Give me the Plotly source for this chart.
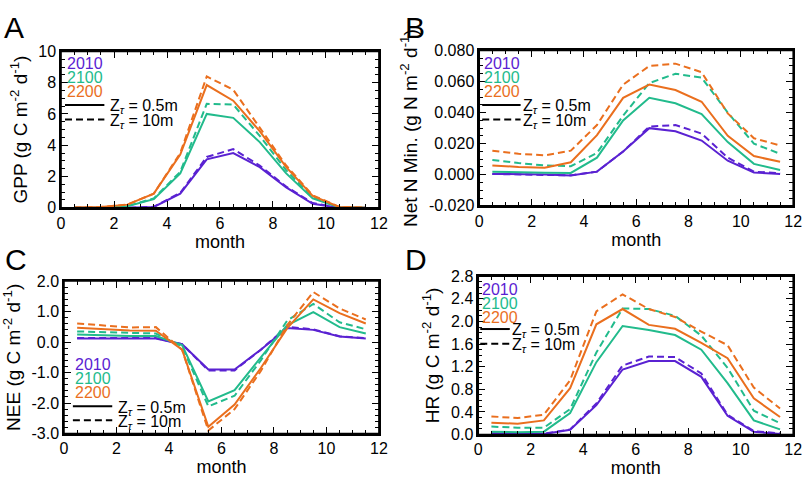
import plotly.graph_objects as go

W, H = 812, 485

months = [0.5, 1.5, 2.5, 3.5, 4.5, 5.5, 6.5, 7.5, 8.5, 9.5, 10.5, 11.5]
years = ["2010", "2100", "2200"]
colors = {"2010": "#5a22d2", "2100": "#22bb8c", "2200": "#ea6f1e"}

# Panel A: GPP
gpp_2010_05 = [0, 0, 0, 0.05, 0.9, 3.1, 3.5, 2.6, 1.3, 0.25, 0.0, 0.0]
gpp_2010_10 = [0, 0, 0, 0.06, 0.95, 3.25, 3.75, 2.7, 1.35, 0.3, 0.01, 0.0]
gpp_2100_05 = [0, 0.02, 0.1, 0.55, 2.2, 6.0, 5.75, 4.2, 2.2, 0.6, 0.03, 0.0]
gpp_2100_10 = [0, 0.02, 0.1, 0.6, 2.3, 6.65, 6.6, 4.6, 2.4, 0.65, 0.04, 0.0]
gpp_2200_05 = [0.01, 0.05, 0.2, 0.9, 3.4, 7.85, 6.85, 4.9, 2.6, 0.75, 0.05, 0.0]
gpp_2200_10 = [0.01, 0.05, 0.2, 0.9, 3.5, 8.4, 7.55, 5.1, 2.7, 0.8, 0.06, 0.0]

# Panel B: Net N mineralization
nmin_2010_05 = [0.0005, 0.0003, 0.0002, -0.0005, 0.002, 0.015, 0.030, 0.028, 0.022, 0.009, 0.0015, 0.0005]
nmin_2010_10 = [0.0005, 0.0003, 0.0002, -0.0004, 0.002, 0.015, 0.031, 0.032, 0.0265, 0.011, 0.002, 0.001]
nmin_2100_05 = [0.002, 0.0015, 0.0013, 0.0012, 0.011, 0.035, 0.0495, 0.046, 0.039, 0.021, 0.007, 0.003]
nmin_2100_10 = [0.0095, 0.0075, 0.006, 0.0055, 0.014, 0.038, 0.059, 0.065, 0.0625, 0.040, 0.020, 0.0135]
nmin_2200_05 = [0.006, 0.005, 0.0045, 0.008, 0.0255, 0.0495, 0.058, 0.0545, 0.047, 0.025, 0.012, 0.0083]
nmin_2200_10 = [0.0155, 0.0135, 0.0125, 0.0155, 0.032, 0.058, 0.070, 0.0715, 0.066, 0.0395, 0.0235, 0.0188]

# Panel C: NEE
nee_2010_05 = [0.12, 0.12, 0.12, 0.12, -0.07, -0.9, -0.9, -0.25, 0.46, 0.40, 0.18, 0.12]
nee_2010_10 = [0.13, 0.13, 0.13, 0.13, -0.07, -0.93, -0.93, -0.25, 0.50, 0.42, 0.19, 0.13]
nee_2100_05 = [0.25, 0.22, 0.2, 0.2, -0.1, -1.95, -1.58, -0.5, 0.55, 0.98, 0.49, 0.28]
nee_2100_10 = [0.35, 0.32, 0.3, 0.28, -0.15, -2.11, -1.76, -0.6, 0.7, 1.25, 0.65, 0.42]
nee_2200_05 = [0.47, 0.42, 0.38, 0.37, -0.25, -2.78, -2.05, -0.85, 0.45, 1.40, 0.95, 0.61]
nee_2200_10 = [0.61, 0.55, 0.48, 0.49, -0.25, -2.9, -2.2, -0.95, 0.55, 1.64, 1.10, 0.74]

# Panel D: HR
hr_2010_05 = [0.02, 0.01, 0.01, 0.085, 0.52, 1.15, 1.30, 1.30, 1.02, 0.33, 0.05, 0.01]
hr_2010_10 = [0.02, 0.015, 0.015, 0.09, 0.55, 1.22, 1.38, 1.37, 1.08, 0.35, 0.06, 0.02]
hr_2100_05 = [0.05, 0.04, 0.05, 0.38, 1.28, 1.92, 1.85, 1.76, 1.50, 0.91, 0.25, 0.09]
hr_2100_10 = [0.14, 0.12, 0.12, 0.45, 1.45, 2.23, 2.22, 2.10, 1.75, 1.18, 0.42, 0.20]
hr_2200_05 = [0.21, 0.19, 0.25, 0.82, 1.95, 2.22, 1.94, 1.87, 1.62, 1.35, 0.64, 0.31]
hr_2200_10 = [0.32, 0.29, 0.35, 0.96, 2.18, 2.48, 2.22, 2.08, 1.82, 1.58, 0.83, 0.46]

x_ticks = [0, 2, 4, 6, 8, 10, 12]
a_ticks = [0, 2, 4, 6, 8, 10]
a_labels = ["0", "2", "4", "6", "8", "10"]
b_ticks = [-0.02, 0.0, 0.02, 0.04, 0.06, 0.08]
b_labels = ["-0.020", "0.000", "0.020", "0.040", "0.060", "0.080"]
c_ticks = [-3, -2, -1, 0, 1, 2]
c_labels = ["-3.0", "-2.0", "-1.0", "0.0", "1.0", "2.0"]
d_ticks = [0, 0.4, 0.8, 1.2, 1.6, 2.0, 2.4, 2.8]
d_labels = ["0.0", "0.4", "0.8", "1.2", "1.6", "2.0", "2.4", "2.8"]

FONT = "Liberation Sans, Arial, Helvetica, sans-serif"

panels = [
    dict(key="A", data=[gpp_2010_05, gpp_2010_10, gpp_2100_05, gpp_2100_10, gpp_2200_05, gpp_2200_10],
         box=(58, 45, 381, 207), yr=[0, 10], tv=a_ticks, tt=a_labels, ydt=0.5, letter=(-2, 1),
         title="GPP (g C m<sup>-2</sup> d<sup>-1</sup>)",
         leg=dict(tx=62, ty=[57.5, 72.0, 86.5], l0=62, l1=102, ly=[100.5, 115.5], zx=106)),
    dict(key="B", data=[nmin_2010_05, nmin_2010_10, nmin_2100_05, nmin_2100_10, nmin_2200_05, nmin_2200_10],
         box=(483, 44, 802, 205), yr=[-0.02, 0.08], tv=b_ticks, tt=b_labels, ydt=0.005, letter=(405, 1),
         title="Net N Min. (g N m<sup>-2</sup> d<sup>-1</sup>)",
         leg=dict(tx=486, ty=[58.0, 72.5, 87.0], l0=486, l1=525, ly=[100.5, 115.5], zx=525)),
    dict(key="C", data=[nee_2010_05, nee_2010_10, nee_2100_05, nee_2100_10, nee_2200_05, nee_2200_10],
         box=(61, 283, 381, 441), yr=[-3, 2], tv=c_ticks, tt=c_labels, ydt=0.2, letter=(-1, 241),
         title="NEE (g C m<sup>-2</sup> d<sup>-1</sup>)",
         leg=dict(tx=70, ty=[369.0, 384.0, 398.5], l0=70, l1=110, ly=[412.7, 427.3], zx=114)),
    dict(key="D", data=[hr_2010_05, hr_2010_10, hr_2100_05, hr_2100_10, hr_2200_05, hr_2200_10],
         box=(482, 278, 802, 442), yr=[0, 2.8], tv=d_ticks, tt=d_labels, ydt=0.1, letter=(405, 241),
         title="HR (g C m<sup>-2</sup> d<sup>-1</sup>)",
         leg=dict(tx=484, ty=[292.0, 306.0, 320.5], l0=484, l1=514, ly=[332.7, 348.0], zx=514)),
]

fig = go.Figure()
annotations = []
shapes = []

def px(x):
    return x / W

def py(y):
    return 1 - y / H

for i, p in enumerate(panels):
    n = "" if i == 0 else str(i + 1)
    xa, ya = "x" + n, "y" + n
    x0, y0, x1, y1 = p["box"]
    for k, yr in enumerate(years):
        for d, dash in enumerate(["solid", "7px,4px"]):
            fig.add_trace(go.Scatter(
                x=months, y=p["data"][2 * k + d], mode="lines",
                line=dict(color=colors[yr], width=2, dash=dash),
                xaxis=xa, yaxis=ya, showlegend=False, hoverinfo="skip"))
    axcommon = dict(showline=True, linecolor="black", linewidth=1.5, mirror="allticks",
                    ticks="inside", ticklen=7, tickwidth=1.3, tickcolor="black",
                    showgrid=False, zeroline=False,
                    tickfont=dict(family=FONT, size=16, color="black"))
    fig.layout["xaxis" + n] = dict(
        domain=[px(x0), px(x1)], anchor=ya, range=[0, 12], tickvals=x_ticks,
        ticktext=[str(v) for v in x_ticks],
        minor=dict(dtick=0.5, tick0=0, ticks="inside", ticklen=4, tickcolor="black", tickwidth=1),
        title=dict(text="month", font=dict(family=FONT, size=18, color="black"), standoff=4),
        **axcommon)
    fig.layout["yaxis" + n] = dict(
        domain=[py(y1), py(y0)], anchor=xa, range=p["yr"], tickvals=p["tv"], ticktext=p["tt"],
        minor=dict(dtick=p["ydt"], tick0=0, ticks="inside", ticklen=4, tickcolor="black", tickwidth=1),
        title=dict(text=p["title"], font=dict(family=FONT, size=19, color="black"), standoff=6),
        **axcommon)
    # frame around the plot area
    shapes.append(dict(type="rect", xref=xa + " domain", yref=ya + " domain",
                       x0=0, x1=1, y0=0, y1=1, layer="above",
                       line=dict(color="black", width=1.5), fillcolor="rgba(0,0,0,0)"))
    # panel letter
    lx, ly = p["letter"]
    annotations.append(dict(text=p["key"], x=px(lx), y=py(ly),
                            xref="paper", yref="paper", xanchor="left", yanchor="top",
                            showarrow=False, font=dict(family=FONT, size=30, color="black")))
    lg = p["leg"]
    for k, yr in enumerate(years):
        annotations.append(dict(text=yr, x=px(lg["tx"]), y=py(lg["ty"][k]), xref="paper", yref="paper",
                                xanchor="left", yanchor="middle", showarrow=False,
                                font=dict(family=FONT, size=16, color=colors[yr])))
    for j, (lab, dash) in enumerate([("0.5m", "solid"), ("10m", "7px,4px")]):
        shapes.append(dict(type="line", xref="paper", yref="paper",
                           x0=px(lg["l0"]), x1=px(lg["l1"]), y0=py(lg["ly"][j]), y1=py(lg["ly"][j]),
                           line=dict(color="black", width=2, dash=dash)))
        annotations.append(dict(text="Z<sub><i>τ</i></sub> = " + lab, x=px(lg["zx"]), y=py(lg["ly"][j] + 2),
                                xref="paper", yref="paper", xanchor="left", yanchor="middle",
                                showarrow=False, font=dict(family=FONT, size=16, color="black")))

fig.update_layout(width=W, height=H, margin=dict(l=0, r=0, t=0, b=0),
                  paper_bgcolor="white", plot_bgcolor="white",
                  annotations=annotations, shapes=shapes, showlegend=False)

fig.write_html("out.html", config={"displayModeBar": False},
               post_script="document.body.style.margin='0';document.body.style.padding='0';document.body.style.overflow='hidden';")
